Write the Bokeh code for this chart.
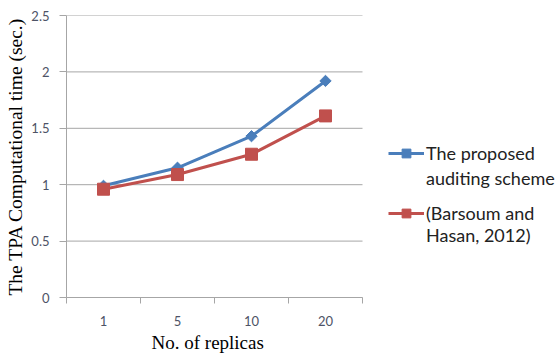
import numpy as np
from bokeh.plotting import figure
from bokeh.models import FixedTicker, Legend, LegendItem, Range1d, Title
from bokeh.embed import file_html
from bokeh.resources import INLINE

categories = ["1", "5", "10", "20"]
proposed = [0.99, 1.15, 1.43, 1.92]
barsoum = [0.96, 1.09, 1.27, 1.61]
y_ticks = [0, 0.5, 1, 1.5, 2, 2.5]
y_tick_labels = ["0", "0.5", "1", "1.5", "2", "2.5"]
series_lines = [["The proposed", "auditing scheme"], ["(Barsoum and", "Hasan, 2012)"]]
x_title = "No. of replicas"
y_title = "The TPA Computational time (sec.)"

x = list(range(1, len(categories) + 1))
x_lo, x_hi = 0.5, len(categories) + 0.5

# the frame spans the whole width so that the legend (inside it) is not clipped;
# the chart itself occupies x in [x_lo, x_hi] (74 px per category)
frame_w = 557 - 66
x_end = x_lo + frame_w / 74.0

p = figure(width=557, height=354, output_backend="svg", toolbar_location=None,
           x_range=Range1d(x_lo, x_end), y_range=Range1d(0, 2.5),
           min_border_left=66, min_border_right=0, min_border_top=15, min_border_bottom=57)
p.outline_line_color = None
p.background_fill_color = "white"
p.border_fill_color = "white"

grey = "#a6a6a6"
tick_font = "Lato"
tick_color = "#4d5366"

# x axis
p.xaxis.bounds = (x_lo, x_hi)
p.xaxis.ticker = FixedTicker(ticks=x, minor_ticks=[v - 0.5 for v in x] + [x_hi])
p.xaxis.major_label_overrides = {float(v): c for v, c in zip(x, categories)}
p.xaxis.major_tick_out = 0
p.xaxis.major_tick_in = 0
p.xaxis.minor_tick_out = 6
p.xaxis.minor_tick_in = 0
p.xaxis.minor_tick_line_color = grey
p.xaxis.axis_line_color = grey
p.xaxis.major_label_standoff = 12
p.xaxis.major_label_text_font = tick_font
p.xaxis.major_label_text_font_size = "13px"
p.xaxis.major_label_text_color = tick_color
p.xgrid.visible = False

p.add_layout(Title(text=x_title, align="left", offset=85, standoff=3,
                   text_font="Liberation Serif", text_font_style="normal",
                   text_font_size="19px", text_color="black"), "below")

# y axis
p.yaxis.ticker = FixedTicker(ticks=y_ticks, minor_ticks=[])
p.yaxis.major_label_overrides = {float(v): s for v, s in zip(y_ticks, y_tick_labels)}
p.yaxis.major_tick_out = 7
p.yaxis.major_tick_in = 0
p.yaxis.major_tick_line_color = grey
p.yaxis.axis_line_color = grey
p.yaxis.major_label_standoff = 10
p.yaxis.major_label_text_font = tick_font
p.yaxis.major_label_text_font_size = "13px"
p.yaxis.major_label_text_color = tick_color
p.yaxis.axis_label = y_title
p.yaxis.axis_label_text_font = "Liberation Serif"
p.yaxis.axis_label_text_font_style = "normal"
p.yaxis.axis_label_text_font_size = "19.5px"
p.yaxis.axis_label_text_color = "black"
p.yaxis.axis_label_standoff = 2
p.ygrid.visible = False

# horizontal gridlines limited to the chart area
p.segment(x0=[x_lo] * len(y_ticks), y0=y_ticks, x1=[x_hi] * len(y_ticks), y1=y_ticks,
          line_color=grey, line_width=1)

blue = "#4a7ebb"
red = "#c0504d"

l1 = p.line(x, proposed, line_color=blue, line_width=3)
s1 = p.scatter(x, proposed, marker="square", angle=np.pi / 4, size=8,
               fill_color=blue, line_color=blue)
l2 = p.line(x, barsoum, line_color=red, line_width=3)
s2 = p.scatter(x, barsoum, marker="square", size=12, fill_color=red, line_color=red)

common = dict(padding=0, margin=0, glyph_width=36, label_standoff=2,
              border_line_color=None, background_fill_alpha=0,
              label_text_font="Lato", label_text_font_size="18px",
              label_text_color="#222222")

leg1 = Legend(items=[LegendItem(label=series_lines[0][0], renderers=[l1, s1]),
                     LegendItem(label=series_lines[0][1], renderers=[])],
              location=(322, 108), spacing=3, glyph_height=22, **common)
leg2 = Legend(items=[LegendItem(label=series_lines[1][0], renderers=[l2, s2]),
                     LegendItem(label=series_lines[1][1], renderers=[])],
              location=(322, 51), spacing=0, glyph_height=22, **common)
p.add_layout(leg1, "center")
p.add_layout(leg2, "center")

open("out.html", "w").write(file_html(p, INLINE))
